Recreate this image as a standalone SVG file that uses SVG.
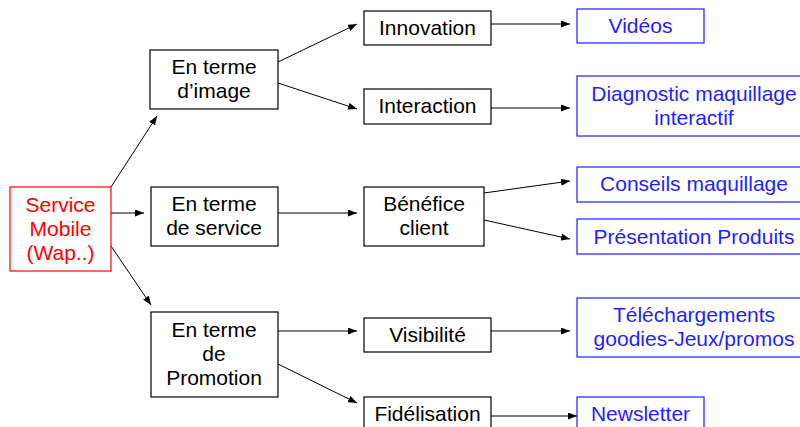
<svg xmlns="http://www.w3.org/2000/svg" width="800" height="427" viewBox="0 0 800 427">
<style>
text{font-family:"Liberation Sans",Arial,sans-serif;font-size:21px;text-anchor:middle}
.k rect{fill:#fff;stroke:#000;stroke-width:1.2}
.k text{fill:#000}
.r rect{fill:#fff;stroke:#ff0000;stroke-width:1.2}
.r text{fill:#ff0000}
.b rect{fill:#fff;stroke:#1f1fff;stroke-width:1.2}
.b text{fill:#1f1fff}
#connectors line{stroke:#000;stroke-width:1;marker-end:url(#ah)}
</style>
<defs>
<marker id="ah" markerUnits="userSpaceOnUse" markerWidth="9" markerHeight="7" viewBox="0 0 9 7" refX="9" refY="3.5" orient="auto">
<path d="M0,0 L9,3.5 L0,7 Z" fill="#000"/>
</marker>
</defs>
<rect width="800" height="427" fill="#fff"/>
<g id="connectors">
<line x1="111" y1="187" x2="157" y2="116"/>
<line x1="111" y1="213" x2="144" y2="213"/>
<line x1="111" y1="246" x2="151" y2="305"/>
<line x1="278" y1="62" x2="357" y2="24"/>
<line x1="278" y1="83" x2="357" y2="109"/>
<line x1="278" y1="213" x2="357" y2="213"/>
<line x1="278" y1="331" x2="357" y2="331"/>
<line x1="278" y1="364" x2="357" y2="403"/>
<line x1="491" y1="24" x2="570" y2="24"/>
<line x1="491" y1="108" x2="570" y2="108"/>
<line x1="484" y1="193" x2="570" y2="181"/>
<line x1="484" y1="220" x2="570" y2="239"/>
<line x1="491" y1="331" x2="570" y2="331"/>
<line x1="491" y1="416" x2="577" y2="416"/>
</g>
<g id="service-mobile" class="r">
<rect x="10" y="187" width="101" height="84"/>
<text x="60.5" y="212">Service</text>
<text x="60.5" y="236">Mobile</text>
<text x="60.5" y="260">(Wap..)</text>
</g>
<g id="terme-image" class="k">
<rect x="150" y="50" width="128" height="59"/>
<text x="214" y="74">En terme</text>
<text x="214" y="98">d’image</text>
</g>
<g id="terme-service" class="k">
<rect x="151" y="187" width="127" height="59"/>
<text x="214" y="211">En terme</text>
<text x="214" y="235">de service</text>
</g>
<g id="terme-promotion" class="k">
<rect x="151" y="312" width="127" height="85"/>
<text x="214" y="337">En terme</text>
<text x="214" y="361">de</text>
<text x="214" y="385">Promotion</text>
</g>
<g id="innovation" class="k">
<rect x="364" y="11" width="127" height="34"/>
<text x="427.5" y="35">Innovation</text>
</g>
<g id="interaction" class="k">
<rect x="364" y="89" width="127" height="35"/>
<text x="427.5" y="113">Interaction</text>
</g>
<g id="benefice" class="k">
<rect x="364" y="187" width="120" height="59"/>
<text x="424" y="211">Bénéfice</text>
<text x="424" y="235">client</text>
</g>
<g id="visibilite" class="k">
<rect x="364" y="318" width="127" height="34"/>
<text x="427.5" y="342">Visibilité</text>
</g>
<g id="fidelisation" class="k">
<rect x="364" y="397" width="127" height="40"/>
<text x="427.5" y="421">Fidélisation</text>
</g>
<g id="videos" class="b">
<rect x="577" y="9" width="127" height="34"/>
<text x="640.5" y="33">Vidéos</text>
</g>
<g id="diagnostic" class="b">
<rect x="577" y="76" width="234" height="60"/>
<text x="694" y="101">Diagnostic maquillage</text>
<text x="694" y="125">interactif</text>
</g>
<g id="conseils" class="b">
<rect x="577" y="167" width="234" height="35"/>
<text x="694" y="191">Conseils maquillage</text>
</g>
<g id="presentation" class="b">
<rect x="577" y="219" width="234" height="35"/>
<text x="694" y="244">Présentation Produits</text>
</g>
<g id="telechargements" class="b">
<rect x="577" y="298" width="234" height="59"/>
<text x="694" y="322">Téléchargements</text>
<text x="694" y="346">goodies-Jeux/promos</text>
</g>
<g id="newsletter" class="b">
<rect x="577" y="397" width="127" height="40"/>
<text x="640.5" y="421">Newsletter</text>
</g>
</svg>
